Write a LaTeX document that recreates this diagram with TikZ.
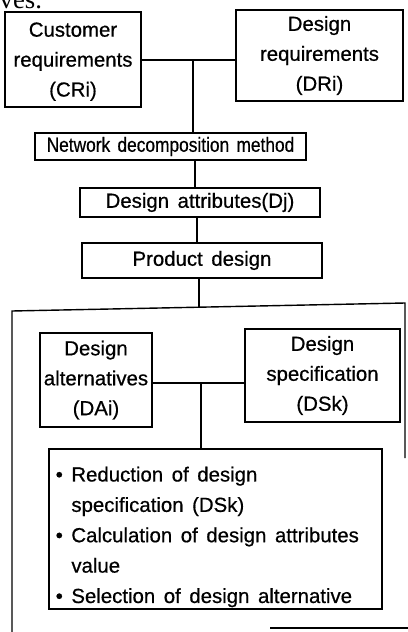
\documentclass[tikz,border=0pt]{standalone}
\usepackage{fontspec}
\setmainfont{Liberation Sans}[FakeBold=0.6]
\newfontfamily\serifpart{Liberation Serif}
\newcommand\widesp{\spaceskip=0.42em plus 0.1em\relax}
\begin{document}
\begin{tikzpicture}[x=0.025cm,y=-0.025cm, line width=1pt,
  box/.style={draw, inner sep=0pt, align=center, font=\fontsize{14.5}{21.3}\selectfont\widesp},
  txt/.style={inner sep=0pt, align=left, font=\fontsize{14.5}{21.6}\selectfont\widesp},
  wire/.style={line width=1pt}]
\useasboundingbox (0,0) rectangle (408,632);
% fragment of preceding text
\node[anchor=base west, inner sep=0pt, font=\serifpart\fontsize{19}{20}\selectfont] (frag) at (-1,8) {ves.};
% top boxes
\node[box, minimum width=136*0.025cm, minimum height=95*0.025cm, text depth=-2pt] (cust) at (73,59.5) {Customer\\requirements\\(CRi)};
\node[box, minimum width=167*0.025cm, minimum height=91*0.025cm] (dreq) at (319.5,55.5) {Design\\requirements\\(DRi)};
\node[box, minimum width=271*0.025cm, minimum height=27*0.025cm] (net) at (170.5,146.5) {\scalebox{0.85}[1]{Network decomposition method}};
\node[box, minimum width=240*0.025cm, minimum height=29*0.025cm] (attr) at (200,202.5) {Design attributes(Dj)};
\node[box, minimum width=240*0.025cm, minimum height=35*0.025cm] (prod) at (202,260.5) {Product design};
% inner boxes
\node[box, minimum width=112*0.025cm, minimum height=94*0.025cm] (dalt) at (96,380) {Design\\alternatives\\(DAi)};
\node[box, minimum width=155*0.025cm, minimum height=93*0.025cm] (dspec) at (322.5,375.5) {Design\\specification\\(DSk)};
\node[draw, inner sep=0pt, minimum width=333*0.025cm, minimum height=160*0.025cm] (bul) at (215.5,529) {};
\node[txt, anchor=north west] (bultext) at (55,466) {• Reduction of design\\\hphantom{• }specification (DSk)\\• Calculation of design attributes\\\hphantom{• }value\\• Selection of design alternative};
% junctions
\coordinate (j1) at (193,60);
\coordinate (j2) at (201,383);
\coordinate (ftl) at (12,311);
\coordinate (ftr) at (405,303);
\coordinate (pj) at (199,307);
% connectors
\draw[wire] (cust.east |- j1) -- (dreq.west |- j1);
\draw[wire] (j1) -- (j1 |- net.north);
\draw[wire] (net.south -| 195,0) -- (attr.north -| 195,0);
\draw[wire] (attr.south -| 197,0) -- (prod.north -| 197,0);
\draw[wire] (prod.south -| pj) -- (pj);
\draw[wire] (dalt.east |- j2) -- (dspec.west |- j2);
\draw[wire] (j2) -- (j2 |- bul.north);
% outer frame (as scanned)
\draw[wire] (12,632) -- (ftl) -- (ftr) -- (405,458);
\draw[wire] (270,628) -- (408,628);
\end{tikzpicture}
\end{document}
